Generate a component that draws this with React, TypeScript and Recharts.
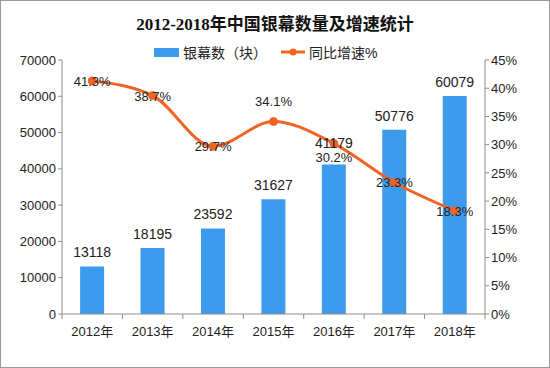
import React from 'react';
import {
  ComposedChart,
  Bar,
  Line,
  XAxis,
  YAxis,
  LabelList,
} from 'recharts';

const years = ['2012年', '2013年', '2014年', '2015年', '2016年', '2017年', '2018年'];
const screens = [13118, 18195, 23592, 31627, 41179, 50776, 60079];
const growth = [41.3, 38.7, 29.7, 34.1, 30.2, 23.3, 18.3];
const leftTicks = [0, 10000, 20000, 30000, 40000, 50000, 60000, 70000];
const rightTicks = [0, 5, 10, 15, 20, 25, 30, 35, 40, 45];

const data = years.map((year, i) => ({ year, screens: screens[i], growth: growth[i] }));

const W = 550;
const H = 368;
const margin = { top: 60, right: 0, bottom: 24, left: 0 };
const leftAxisW = 62;
const rightAxisW = 65;
const BAR_COLOR = '#3d9bee';
const LINE_COLOR = '#f26424';
const AXIS_COLOR = '#8c8c8c';
const FONT = '"Liberation Sans", "Noto Sans CJK SC", sans-serif';
const band = (W - leftAxisW - rightAxisW) / years.length;

// labels nudged off their default spot so they don't collide
const growthShift: Record<number, number> = { 3: -21, 4: 13 };
const barShift: Record<number, number> = { 4: -8 };

function YearTick(props: any) {
  const { x, y, payload, index } = props;
  const last = index === years.length - 1;
  return (
    <g>
      <line x1={x - band / 2} y1={y - 8} x2={x - band / 2} y2={y - 3} stroke={AXIS_COLOR} />
      {last && <line x1={x + band / 2} y1={y - 8} x2={x + band / 2} y2={y - 3} stroke={AXIS_COLOR} />}
      <text x={x} y={y + 14} textAnchor="middle" fontSize={13} fill="#222" fontFamily={FONT}>
        {payload.value}
      </text>
    </g>
  );
}

function GrowthLabel(props: any) {
  const { x, y, value, index } = props;
  const dy = growthShift[index] ?? 0;
  return (
    <text x={x} y={y + dy + 5} textAnchor="middle" fontSize={13} fill="#222" fontFamily={FONT}>
      {value}%
    </text>
  );
}

function ScreenLabel(props: any) {
  const { x, y, width, value, index } = props;
  const dy = barShift[index] ?? 0;
  return (
    <text x={x + width / 2} y={y - 9 + dy} textAnchor="middle" fontSize={14} fill="#222" fontFamily={FONT}>
      {value}
    </text>
  );
}

function LegendRow() {
  const txt = { fontSize: 14, color: '#222', fontFamily: FONT };
  return (
    <div style={{ position: 'absolute', left: 153, top: 41, display: 'flex', alignItems: 'center', ...txt }}>
      <span style={{ width: 25, height: 9, background: BAR_COLOR, display: 'inline-block', marginRight: 4 }} />
      <span>银幕数（块）</span>
      <svg width={24} height={10} style={{ marginLeft: 14, marginRight: 4 }}>
        <line x1={0} y1={5} x2={24} y2={5} stroke={LINE_COLOR} strokeWidth={3} />
        <circle cx={12} cy={5} r={3.5} fill={LINE_COLOR} />
      </svg>
      <span>同比增速%</span>
    </div>
  );
}

export default function App() {
  return (
    <div
      style={{
        position: 'absolute',
        left: 0,
        top: 0,
        width: W,
        height: H,
        background: '#fff',
        boxSizing: 'border-box',
        border: '1px solid #9a9a9a',
      }}
    >
      <div
        style={{
          position: 'absolute',
          top: 9,
          width: '100%',
          textAlign: 'center',
          fontSize: 17,
          fontWeight: 'bold',
          fontFamily: '"Liberation Serif", "Noto Sans CJK SC", serif',
          color: '#111',
        }}
      >
        2012-2018年中国银幕数量及增速统计
      </div>
      <LegendRow />
      <div style={{ position: 'absolute', left: -1, top: -1 }}>
        <ComposedChart width={W} height={H} data={data} margin={margin} barCategoryGap="30%">
          <XAxis
            dataKey="year"
            axisLine={{ stroke: AXIS_COLOR }}
            tickLine={false}
            tick={<YearTick />}
            interval={0}
            height={30}
          />
          <YAxis
            yAxisId="left"
            domain={[0, 70000]}
            ticks={leftTicks}
            width={leftAxisW}
            axisLine={{ stroke: AXIS_COLOR }}
            tickLine={{ stroke: AXIS_COLOR }}
            tickSize={4}
            tick={{ fontSize: 13, fill: '#222', fontFamily: FONT }}
            interval={0}
          />
          <YAxis
            yAxisId="right"
            orientation="right"
            domain={[0, 45]}
            ticks={rightTicks}
            width={rightAxisW}
            axisLine={{ stroke: AXIS_COLOR }}
            tickLine={{ stroke: AXIS_COLOR }}
            tickSize={4}
            tickFormatter={(v) => `${v}%`}
            tick={{ fontSize: 13, fill: '#222', fontFamily: FONT }}
            interval={0}
          />
          <Bar yAxisId="left" dataKey="screens" fill={BAR_COLOR} isAnimationActive={false}>
            <LabelList dataKey="screens" content={<ScreenLabel />} />
          </Bar>
          <Line
            yAxisId="right"
            dataKey="growth"
            type="monotone"
            stroke={LINE_COLOR}
            strokeWidth={3}
            dot={{ r: 4, fill: LINE_COLOR, stroke: LINE_COLOR, strokeWidth: 1 }}
            isAnimationActive={false}
          >
            <LabelList dataKey="growth" content={<GrowthLabel />} />
          </Line>
        </ComposedChart>
      </div>
    </div>
  );
}
